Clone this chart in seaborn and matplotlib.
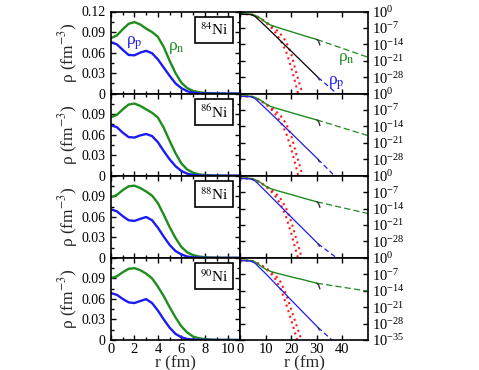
import numpy as np
import matplotlib
matplotlib.use("Agg")
import matplotlib.pyplot as plt
import seaborn as sns
from matplotlib.ticker import MultipleLocator, NullLocator, FixedLocator, LogFormatterMathtext

# ---------------- data ----------------
nuclei = ["84", "86", "88", "90"]

# left panels: density profiles (fm^-3)
r_fm = [0, 0.5, 1, 1.5, 2, 2.5, 3, 3.5, 4, 4.5, 5, 5.5, 6, 6.5, 7, 7.5, 8, 8.5, 9, 9.5, 10, 10.5, 11]
rho_n_84 = [0.081, 0.085, 0.094, 0.102, 0.1045, 0.101, 0.095, 0.090, 0.083, 0.068, 0.048, 0.030, 0.016, 0.008, 0.004, 0.002, 0.001, 0.0005, 0.0002, 0.0001, 0, 0, 0]
rho_p_84 = [0.075, 0.072, 0.064, 0.0565, 0.056, 0.060, 0.0625, 0.059, 0.050, 0.038, 0.026, 0.015, 0.008, 0.0035, 0.0015, 0.0006, 0.0002, 0.0001, 0, 0, 0, 0, 0]
rho_n_86 = [0.0855, 0.089, 0.097, 0.104, 0.1055, 0.102, 0.097, 0.092, 0.085, 0.070, 0.051, 0.033, 0.018, 0.009, 0.0045, 0.002, 0.001, 0.0005, 0.0002, 0.0001, 0, 0, 0]
rho_p_86 = [0.0736, 0.071, 0.063, 0.0565, 0.0558, 0.059, 0.061, 0.058, 0.049, 0.036, 0.024, 0.014, 0.007, 0.003, 0.0012, 0.0005, 0.0002, 0.0001, 0, 0, 0, 0, 0]
rho_n_88 = [0.0885, 0.092, 0.099, 0.1045, 0.1055, 0.102, 0.097, 0.091, 0.080, 0.063, 0.045, 0.029, 0.016, 0.008, 0.004, 0.002, 0.001, 0.0005, 0.0003, 0.0001, 0.0001, 0, 0]
rho_p_88 = [0.071, 0.068, 0.061, 0.055, 0.054, 0.057, 0.0597, 0.055, 0.044, 0.031, 0.019, 0.010, 0.005, 0.002, 0.0008, 0.0003, 0.0001, 0, 0, 0, 0, 0, 0]
rho_n_90 = [0.0905, 0.093, 0.099, 0.104, 0.105, 0.102, 0.097, 0.090, 0.078, 0.064, 0.048, 0.033, 0.020, 0.011, 0.005, 0.0025, 0.0012, 0.0006, 0.0003, 0.00015, 0.0001, 0, 0]
rho_p_90 = [0.0685, 0.066, 0.060, 0.055, 0.054, 0.057, 0.0597, 0.054, 0.043, 0.030, 0.018, 0.009, 0.004, 0.0015, 0.0006, 0.0002, 0.0001, 0, 0, 0, 0, 0, 0]

# right panels: log10 of densities
r_n_solid = [0, 2, 4, 5, 6, 8, 10, 12, 15, 20, 25, 30]
logn_solid_84 = [-1.09, -0.98, -1.08, -1.3, -1.7, -2.9, -4.6, -5.8, -6.9, -8.6, -10.3, -11.9]
logn_solid_86 = [-1.07, -0.98, -1.07, -1.27, -1.65, -2.8, -4.3, -5.5, -6.5, -8.1, -9.7, -11.2]
logn_solid_88 = [-1.05, -0.98, -1.1, -1.3, -1.7, -2.9, -4.4, -5.5, -6.5, -8.0, -9.6, -11.1]
logn_solid_90 = [-1.04, -0.98, -1.1, -1.3, -1.8, -3.4, -4.8, -5.8, -6.7, -8.1, -9.4, -10.8]

r_n_hook = [30, 30.7, 31.2]
logn_hook_84 = [-11.9, -12.6, -14.3]
logn_hook_86 = [-11.2, -11.9, -13.6]
logn_hook_88 = [-11.1, -11.8, -13.5]
logn_hook_90 = [-10.8, -11.5, -13.2]

r_n_dash = [30, 50]
logn_dash_84 = [-11.9, -19.5]
logn_dash_86 = [-11.2, -17.9]
logn_dash_88 = [-11.1, -16.1]
logn_dash_90 = [-10.8, -14.2]

r_p_solid = [0, 2, 4, 5, 6, 10, 20, 30.5]
logp_solid_84 = [-1.12, -1.25, -1.3, -1.6, -2.2, -6.3, -16.9, -28.1]
logp_solid_86 = [-1.13, -1.25, -1.31, -1.62, -2.2, -6.3, -16.8, -28.0]
logp_solid_88 = [-1.15, -1.27, -1.36, -1.72, -2.3, -6.6, -17.6, -29.0]
logp_solid_90 = [-1.16, -1.27, -1.37, -1.75, -2.4, -6.7, -18.0, -29.7]

r_p_hook = [30.5, 31.0]
logp_hook_84 = [-28.1, -29.2]
logp_hook_86 = [-28.0, -29.1]
logp_hook_88 = [-29.0, -30.1]
logp_hook_90 = [-29.7, -30.8]

r_p_dash = [30.5, 38]
logp_dash_84 = [-28.1, -35.1]
logp_dash_86 = [-28.0, -36.2]
logp_dash_88 = [-29.0, -35.2]
logp_dash_90 = [-29.7, -37.0]

r_red = [0, 4, 6, 8, 10, 12, 14, 16, 18, 20, 22, 24, 26]
logred_a_84 = [-1.1, -1.1, -1.8, -3.0, -4.6, -6.6, -9.2, -12.6, -17.0, -23.8, -32.0, -41, -50]
logred_b_84 = [-1.1, -1.1, -1.7, -2.9, -4.4, -5.9, -7.6, -9.8, -12.8, -18.0, -26.2, -33.5, -43]
logred_a_86 = [-1.1, -1.1, -1.8, -3.0, -4.5, -6.5, -9.0, -12.4, -16.8, -23.5, -31.6, -40.5, -50]
logred_b_86 = [-1.1, -1.1, -1.7, -2.9, -4.3, -5.8, -7.5, -9.7, -12.7, -17.8, -25.8, -33.2, -42.5]
logred_a_88 = [-1.1, -1.1, -1.8, -3.0, -4.5, -6.5, -9.0, -12.5, -17.5, -24.5, -32.5, -41, -50]
logred_b_88 = [-1.1, -1.1, -1.7, -2.9, -4.3, -5.8, -7.6, -10.0, -13.8, -19.5, -27.0, -34.5, -43]
logred_a_90 = [-1.15, -1.15, -1.8, -3.0, -4.5, -6.5, -9.3, -13.6, -19.6, -26.5, -33.8, -41, -50]
logred_b_90 = [-1.1, -1.1, -1.7, -2.9, -4.3, -5.8, -7.6, -10.5, -15.5, -22.0, -28.5, -35.0, -42]

rho_n = {"84": rho_n_84, "86": rho_n_86, "88": rho_n_88, "90": rho_n_90}
rho_p = {"84": rho_p_84, "86": rho_p_86, "88": rho_p_88, "90": rho_p_90}
n_solid = {"84": logn_solid_84, "86": logn_solid_86, "88": logn_solid_88, "90": logn_solid_90}
n_hook = {"84": logn_hook_84, "86": logn_hook_86, "88": logn_hook_88, "90": logn_hook_90}
n_dash = {"84": logn_dash_84, "86": logn_dash_86, "88": logn_dash_88, "90": logn_dash_90}
p_solid = {"84": logp_solid_84, "86": logp_solid_86, "88": logp_solid_88, "90": logp_solid_90}
p_hook = {"84": logp_hook_84, "86": logp_hook_86, "88": logp_hook_88, "90": logp_hook_90}
p_dash = {"84": logp_dash_84, "86": logp_dash_86, "88": logp_dash_88, "90": logp_dash_90}
red_a = {"84": logred_a_84, "86": logred_a_86, "88": logred_a_88, "90": logred_a_90}
red_b = {"84": logred_b_84, "86": logred_b_86, "88": logred_b_88, "90": logred_b_90}

left_yticks = [0, 0.03, 0.06, 0.09, 0.12]
left_xticks = [0, 2, 4, 6, 8, 10]
right_xticks = [0, 10, 20, 30, 40]
right_yticks = [1e0, 1e-7, 1e-14, 1e-21, 1e-28, 1e-35]

# ---------------- style ----------------
sns.set_theme(style="ticks")
plt.rcParams.update({
    "mathtext.fontset": "stix",
    "axes.linewidth": 1.2,
    "xtick.direction": "in",
    "ytick.direction": "in",
    "xtick.major.size": 3.5,
    "ytick.major.size": 3.5,
    "xtick.minor.size": 2,
    "ytick.minor.size": 2,
    "xtick.major.width": 1.0,
    "ytick.major.width": 1.0,
    "xtick.color": "black",
    "ytick.color": "black",
    "axes.edgecolor": "black",
    "text.color": "black",
})
plt.rcParams["font.family"] = ["Liberation Serif", "DejaVu Serif"]

GREEN = "#1e8c1e"
BLUE = "#1c1cf0"
RED = "#ff1a1a"


def line(ax, x, y, **kw):
    sns.lineplot(x=list(x), y=list(y), ax=ax, estimator=None, sort=False, legend=False, **kw)


fig = plt.figure(figsize=(4.79, 3.70), dpi=100)
top = 1 - 11.5 / 370
bot = 1 - 340 / 370
h = (top - bot) / 4

for i, nuc in enumerate(nuclei):
    y0 = top - (i + 1) * h
    last = i == len(nuclei) - 1
    axL = fig.add_axes([111 / 479, y0, 129 / 479, h])
    axR = fig.add_axes([240 / 479, y0, 128 / 479, h])

    # ---- left: linear densities
    line(axL, r_fm, rho_n[nuc], color=GREEN, lw=1.7)
    line(axL, r_fm, rho_p[nuc], color=BLUE, lw=1.7)
    axL.set_xlim(0, 11)
    axL.set_ylim(0, 0.12)
    axL.set_xticks(left_xticks)
    axL.xaxis.set_minor_locator(MultipleLocator(1))
    axL.set_yticks(left_yticks)
    axL.yaxis.set_minor_locator(MultipleLocator(0.015))
    if i == 0:
        axL.set_yticklabels(["0", "0.03", "0.06", "0.09", "0.12"])
    else:
        axL.set_yticklabels(["0", "0.03", "0.06", "0.09", ""])
    axL.tick_params(which="both", top=True, right=True, labelsize=10, pad=4)
    axL.tick_params(axis="x", labelbottom=last, labelsize=10.5, pad=2.5)
    axL.set_ylabel("ρ (fm$^{-3}$)", fontsize=12.5, labelpad=1)
    axL.set_xlabel("")
    axL.text(0.80, 0.775, r"$^{%s}$Ni" % nuc, transform=axL.transAxes, fontsize=11,
             ha="center", va="center",
             bbox=dict(boxstyle="square,pad=0.3", fc="white", ec="black", lw=1.2))
    if i == 0:
        axL.text(1.95, 0.074, "ρ$_{\\rm p}$", color=BLUE, fontsize=12.5, ha="center", va="center")
        axL.text(5.6, 0.067, "ρ$_{\\rm n}$", color=GREEN, fontsize=12.5, ha="center", va="center")
    if last:
        axL.set_xlabel("r (fm)", fontsize=12.5, labelpad=-1)

    # ---- right: logarithmic tails
    line(axR, r_red, 10.0 ** np.array(red_a[nuc]), color=RED, lw=1.5, linestyle=(0, (1, 1.8)))
    line(axR, r_red, 10.0 ** np.array(red_b[nuc]), color=RED, lw=1.5, linestyle=(0, (1, 1.8)))
    line(axR, r_n_solid, 10.0 ** np.array(n_solid[nuc]), color=GREEN, lw=1.0)
    line(axR, r_n_dash, 10.0 ** np.array(n_dash[nuc]), color=GREEN, lw=0.9, linestyle=(0, (5, 2.5)))
    line(axR, r_n_hook, 10.0 ** np.array(n_hook[nuc]), color="#333333", lw=1.0)
    pcol = "black" if i == 0 else BLUE
    line(axR, r_p_solid, 10.0 ** np.array(p_solid[nuc]), color=pcol, lw=0.9)
    line(axR, r_p_dash, 10.0 ** np.array(p_dash[nuc]), color=BLUE, lw=0.9, linestyle=(0, (4, 2.5)))
    line(axR, r_p_hook, 10.0 ** np.array(p_hook[nuc]), color="#333333", lw=0.9)
    axR.set_yscale("log")
    axR.set_xlim(0, 50)
    axR.set_ylim(1e-35, 1e0)
    axR.set_xticks(right_xticks)
    axR.xaxis.set_minor_locator(NullLocator())
    axR.yaxis.set_major_locator(FixedLocator(right_yticks if last else right_yticks[:-1]))
    axR.yaxis.set_major_formatter(LogFormatterMathtext())
    axR.yaxis.set_minor_locator(NullLocator())
    axR.tick_params(which="both", top=True, right=True, left=True,
                    labelleft=False, labelright=True, labelsize=10.5, pad=3)
    axR.tick_params(axis="x", labelbottom=last, labelsize=10.5, pad=2.5)
    axR.set_ylabel("")
    axR.set_xlabel("")
    if i == 0:
        axR.text(41.5, 10 ** -20.3, "ρ$_{\\rm n}$", color=GREEN, fontsize=12.5, ha="center", va="center")
        axR.text(37.5, 10 ** -30.5, "ρ$_{\\rm p}$", color=BLUE, fontsize=12.5, ha="center", va="center")
    if last:
        axR.set_xlabel("r (fm)", fontsize=12.5, labelpad=-1)

fig.savefig("out.png", dpi=100)
